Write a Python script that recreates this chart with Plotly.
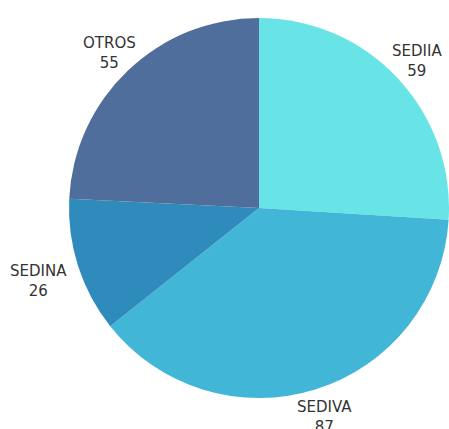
import math
import plotly.graph_objects as go

labels = ["SEDIIA", "SEDIVA", "SEDINA", "OTROS"]
values = [59, 87, 26, 55]
colors = ["#68E4E7", "#42B6D6", "#2E8BBC", "#4F6E9B"]

W, H = 449, 429
# pie placement in pixels
x0, x1 = 69, 449
y0, y1 = 17, 399
cx, cy = (x0 + x1) / 2, (y0 + y1) / 2
r = min(x1 - x0, y1 - y0) / 2

fig = go.Figure(go.Pie(
    labels=labels,
    values=values,
    sort=False,
    direction="clockwise",
    rotation=0,
    marker=dict(colors=colors, line=dict(width=0)),
    textinfo="none",
    domain=dict(x=[x0 / W, x1 / W], y=[1 - y1 / H, 1 - y0 / H]),
    hoverinfo="label+value",
    showlegend=False,
))

# outside labels at the middle angle of each slice
total = sum(values)
acc = 0
annotations = []
for lab, v in zip(labels, values):
    mid = (acc + v / 2) / total * 2 * math.pi
    acc += v
    s, c = math.sin(mid), math.cos(mid)
    d = r + 27 + 15 * max(0.0, abs(s) - 0.75) / 0.2
    px = cx + d * s
    py = cy - d * c
    annotations.append(dict(
        x=px / W, y=1 - py / H, xref="paper", yref="paper",
        text=f"{lab}<br>{v}", showarrow=False,
        xanchor="center", yanchor="middle", yshift=-2,
        font=dict(family="DejaVu Sans", size=15, color="#333333"),
    ))

fig.update_layout(
    width=W,
    height=H,
    margin=dict(l=0, r=0, t=0, b=0),
    paper_bgcolor="white",
    plot_bgcolor="white",
    showlegend=False,
    annotations=annotations,
)

fig.write_html(
    "out.html",
    config={"displayModeBar": False},
    post_script="document.body.style.margin='0';document.body.style.overflow='hidden';",
)
